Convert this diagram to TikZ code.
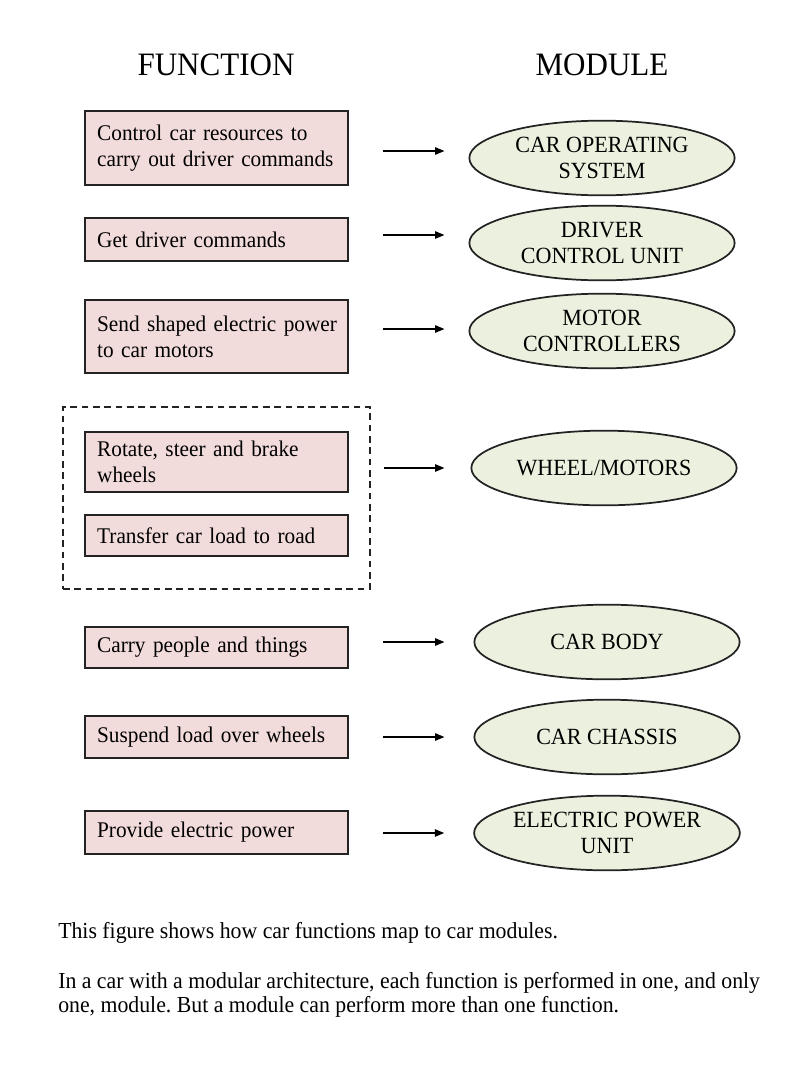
\documentclass[tikz,border=0pt]{standalone}
\usepackage{fontspec}
\setmainfont{Liberation Serif}[FakeStretch=0.95]
\usetikzlibrary{arrows.meta,shapes.geometric}
\definecolor{boxpink}{RGB}{242,220,219}
\definecolor{ellgreen}{RGB}{235,241,222}
\definecolor{edgecol}{RGB}{35,35,35}
\frenchspacing
\begin{document}
\begin{tikzpicture}[x=0.75pt,y=-0.75pt,
  titletext/.style={anchor=base, font=\fontsize{24.5}{28}\selectfont},
  fbox/.style={draw=edgecol, line width=1.4pt, fill=boxpink, text width=179pt,
    inner xsep=9pt, inner ysep=2pt, align=left, font=\fontsize{16.8}{19.5}\selectfont},
  mell/.style={ellipse, draw=edgecol, line width=1.3pt, fill=ellgreen, minimum width=199pt,
    minimum height=56pt, inner sep=0pt, align=center, font=\fontsize{17.4}{19}\selectfont},
  grpbox/.style={draw=edgecol, line width=1.2pt, dash pattern=on 5pt off 3.5pt,
    minimum width=230.25pt, minimum height=136.5pt},
  arr/.style={draw=black, line width=1.1pt, -{Triangle[length=7pt,width=5.5pt]}},
  bodytext/.style={anchor=base west, inner sep=0pt, font=\fontsize{17.2}{18}\selectfont}
]
\fill[white] (0,0) rectangle (800,1079);
\useasboundingbox (0,0) rectangle (800,1079);

\node[titletext] (tf) at (216,75) {FUNCTION};
\node[titletext] (tm) at (602,75) {MODULE};

\node[fbox, minimum height=55.5pt] (f1) at (216.5,148) {Control car resources to\\\mbox{carry out driver commands}};
\node[fbox, minimum height=32.25pt] (f2) at (216.5,239.5) {Get driver commands};
\node[fbox, minimum height=54.75pt] (f3) at (216.5,336.5) {\mbox{Send shaped electric power}\\to car motors};
\node[grpbox] (g) at (216.5,498) {};
\node[fbox, minimum height=45pt] (f4) at (216.5,462) {Rotate, steer and brake\\wheels};
\node[fbox, minimum height=30.75pt] (f5) at (216.5,535.5) {Transfer car load to road};
\node[fbox, minimum height=30.75pt] (f6) at (216.5,647.5) {Carry people and things};
\node[fbox, minimum height=31.5pt] (f7) at (216.5,737) {Suspend load over wheels};
\node[fbox, minimum height=32.25pt] (f8) at (216.5,832.5) {Provide electric power};

\node[mell] (e1) at (602,158) {CAR OPERATING\\SYSTEM};
\node[mell] (e2) at (602,243) {DRIVER\\CONTROL UNIT};
\node[mell] (e3) at (602,331) {MOTOR\\CONTROLLERS};
\node[mell] (e4) at (604,468) {WHEEL/MOTORS};
\node[mell] (e5) at (607,642) {CAR BODY};
\node[mell] (e6) at (607,737) {CAR CHASSIS};
\node[mell] (e7) at (607,833) {ELECTRIC POWER\\UNIT};

\draw[arr, shorten <=25.5pt, shorten >=18pt] (f1.east |- 0,151) -- (e1.west |- 0,151);
\draw[arr, shorten <=25.5pt, shorten >=18pt] (f2.east |- 0,235) -- (e2.west |- 0,235);
\draw[arr, shorten <=25.5pt, shorten >=18pt] (f3.east |- 0,329) -- (e3.west |- 0,329);
\draw[arr, shorten <=9.75pt, shorten >=19.5pt] (g.east |- 0,468) -- (e4.west |- 0,468);
\draw[arr, shorten <=25.5pt, shorten >=21.75pt] (f6.east |- 0,642) -- (e5.west |- 0,642);
\draw[arr, shorten <=25.5pt, shorten >=21.75pt] (f7.east |- 0,737) -- (e6.west |- 0,737);
\draw[arr, shorten <=25.5pt, shorten >=21.75pt] (f8.east |- 0,833) -- (e7.west |- 0,833);

\node[bodytext] (cap) at (58,938) {This figure shows how car functions map to car modules.};
\node[bodytext] (p1) at (58,988) {In a car with a modular architecture, each function is performed in one, and only};
\node[bodytext] (p2) at (58,1012) {one, module. But a module can perform more than one function.};
\end{tikzpicture}
\end{document}
